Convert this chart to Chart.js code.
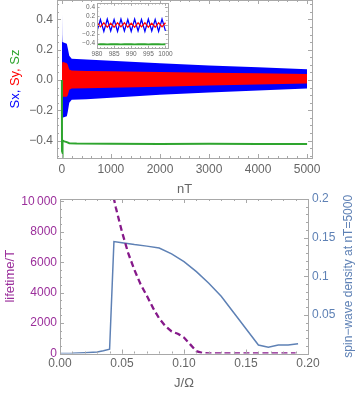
<!DOCTYPE html>
<html>
<head>
<meta charset="utf-8">
<script src="https://cdn.jsdelivr.net/npm/chart.js@4.4.1/dist/chart.umd.min.js"></script>
<style>
  html, body { margin: 0; padding: 0; background: #fff; }
  #wrap { position: relative; width: 357px; height: 393px; overflow: hidden; background: #fff; }
  canvas { position: absolute; }
  #topChart { left: 0; top: -20px; z-index: 1; }
  #insetChart { left: 70px; top: -15px; z-index: 3; }
  #bottomChart { left: 0; top: 175px; z-index: 2; }
</style>
</head>
<body>
<div id="wrap">
  <canvas id="topChart" width="357" height="220"></canvas>
  <canvas id="insetChart" width="105" height="73"></canvas>
  <canvas id="bottomChart" width="357" height="218"></canvas>
</div>
<script>
// 上のグラフ: Sx, Sy, Sz の包絡線 (nT)
const nEnv = [0, 5, 10, 100, 120, 150, 200, 500, 1000, 2000, 3000, 4000, 5000];
const sxUpper = [0.52, 0.30, 0.25, 0.24, 0.21, 0.16, 0.14, 0.135, 0.127, 0.11, 0.096, 0.084, 0.071];
const sxLower = [-0.05, -0.24, -0.25, -0.24, -0.21, -0.15, -0.13, -0.127, -0.118, -0.097, -0.083, -0.069, -0.056];
const syUpper = [0.05, 0.11, 0.12, 0.11, 0.10, 0.07, 0.062, 0.06, 0.057, 0.053, 0.048, 0.044, 0.04];
const syLower = [-0.02, -0.10, -0.11, -0.11, -0.10, -0.065, -0.056, -0.055, -0.052, -0.045, -0.037, -0.03, -0.023];
const nSz = [0, 2, 5, 20, 50, 100, 150, 300, 1000, 2000, 3000, 4000, 5000];
const szValues = [0, -0.47, -0.48, -0.40, -0.405, -0.41, -0.417, -0.42, -0.421, -0.422, -0.421, -0.422, -0.422];
const topXTicks = [0, 1000, 2000, 3000, 4000, 5000];
const topYTicks = [-0.4, -0.2, 0, 0.2, 0.4];

// 挿入図: nT = 980 .. 1000
const nInset = [980, 981, 982, 983, 984, 985, 986, 987, 988, 989, 990, 991, 992, 993, 994, 995, 996, 997, 998, 999, 1000];
const sxInset = [-0.13, 0.12, -0.14, 0.13, -0.13, 0.12, -0.14, 0.13, -0.13, 0.12, -0.14, 0.13, -0.13, 0.12, -0.14, 0.13, -0.13, 0.12, -0.14, 0.13, -0.13];
const syInset = [0.05, -0.04, 0.05, -0.05, 0.04, -0.05, 0.05, -0.04, 0.05, -0.05, 0.04, -0.05, 0.05, -0.04, 0.05, -0.05, 0.04, -0.05, 0.05, -0.04, 0.05];
const szInset = [-0.42, -0.421, -0.42, -0.422, -0.421, -0.42, -0.421, -0.422, -0.42, -0.421, -0.42, -0.422, -0.421, -0.42, -0.421, -0.422, -0.42, -0.421, -0.42, -0.422, -0.421];
const insetXTicks = [980, 985, 990, 995, 1000];
const insetYTicks = [-0.4, -0.2, 0, 0.2, 0.4];

// 下のグラフ: J/Ω
const jLife = [0.04, 0.045, 0.05, 0.055, 0.06, 0.065, 0.07, 0.075, 0.08, 0.085, 0.09, 0.095, 0.10, 0.105, 0.11, 0.115, 0.12, 0.13, 0.14, 0.15, 0.16, 0.17, 0.18, 0.19];
const lifetime = [11500, 9600, 8000, 6600, 5500, 4550, 3800, 3000, 2300, 1800, 1450, 1300, 1050, 600, 150, 30, 10, 10, 10, 10, 10, 10, 10, 10];
const jDensity = [0, 0.01, 0.02, 0.03, 0.035, 0.04, 0.0435, 0.05, 0.06, 0.07, 0.08, 0.09, 0.10, 0.11, 0.12, 0.13, 0.14, 0.15, 0.16, 0.168, 0.176, 0.184, 0.192];
const density = [0, 0.0003, 0.001, 0.002, 0.0035, 0.0055, 0.145, 0.1435, 0.141, 0.139, 0.1365, 0.129, 0.119, 0.106, 0.091, 0.074, 0.053, 0.032, 0.011, 0.008, 0.011, 0.011, 0.0125];
const jTicks = [0, 0.05, 0.10, 0.15, 0.20];
const lifeTicks = [0, 2000, 4000, 6000, 8000, 10000];
const densityTicks = [0, 0.05, 0.1, 0.15, 0.2];

const FONT = '"Liberation Sans", Arial, sans-serif';
const GRAY = '#666666';
const BLUE = '#0000ff';
const RED = '#ff0000';
const GREEN = '#2ea52e';
const PURPLE = '#86198a';
const PURPLE_TXT = '#9b2f9b';
const STEEL = '#5e81b5';

const toPts = (xs, ys) => xs.map((x, i) => ({ x: x, y: ys[i] }));
const fixTicks = (list) => (scale) => { scale.ticks = list.map(v => ({ value: v })); };
const signed = (v, d) => (v < 0 ? '\u2212' : '') + Math.abs(v).toFixed(d);

// 枠と内向きの目盛り (Mathematica 風)
const frameTicks = {
  id: 'frameTicks',
  afterDatasetsDraw(chart, args, opts) {
    const { ctx, chartArea: a } = chart;
    const scales = Object.values(chart.scales);
    const hasRight = scales.some(s => s.position === 'right');
    const len = opts.len || 4;
    ctx.save();
    ctx.strokeStyle = '#a8a8a8';
    ctx.lineWidth = 1;
    ctx.strokeRect(Math.round(a.left) + 0.5, Math.round(a.top) + 0.5, Math.round(a.right - a.left), Math.round(a.bottom - a.top));
    scales.forEach(s => {
      const marks = s.ticks.map(t => [t.value, len]);
      const step = (opts.minor || {})[s.id];
      if (step) {
        for (let k = Math.ceil(s.min / step); k * step <= s.max + 1e-9; k++) marks.push([k * step, len / 2]);
      }
      marks.forEach(([v, l]) => {
        if (v < s.min || v > s.max) return;
        const p = Math.round(s.getPixelForValue(v)) + 0.5;
        ctx.beginPath();
        if (s.isHorizontal()) {
          ctx.moveTo(p, a.bottom); ctx.lineTo(p, a.bottom - l);
          ctx.moveTo(p, a.top); ctx.lineTo(p, a.top + l);
        } else {
          if (!hasRight || s.position === 'left') { ctx.moveTo(a.left, p); ctx.lineTo(a.left + l, p); }
          if (!hasRight || s.position === 'right') { ctx.moveTo(a.right, p); ctx.lineTo(a.right - l, p); }
        }
        ctx.stroke();
      });
    });
    ctx.restore();
  }
};

// 色分けした縦軸ラベル "Sx, Sy, Sz"
const titleParts = [
  { text: 'Sx, ', color: BLUE },
  { text: 'Sy, ', color: RED },
  { text: 'Sz', color: GREEN },
];
const multiColorTitle = {
  id: 'multiColorTitle',
  afterDraw(chart) {
    const ctx = chart.ctx;
    ctx.save();
    ctx.font = '13px ' + FONT;
    const total = titleParts.reduce((w, p) => w + ctx.measureText(p.text).width, 0);
    ctx.translate(15, chart.chartArea.top + 79);
    ctx.rotate(-Math.PI / 2);
    ctx.textBaseline = 'middle';
    ctx.textAlign = 'left';
    let x = -total / 2;
    titleParts.forEach(p => {
      ctx.fillStyle = p.color;
      ctx.fillText(p.text, x, 0);
      x += ctx.measureText(p.text).width;
    });
    ctx.restore();
  }
};

// 右軸のタイトル (下から上へ)
const rightTitle = {
  id: 'rightTitle',
  afterDraw(chart) {
    const { ctx, chartArea: a } = chart;
    ctx.save();
    ctx.font = '12px ' + FONT;
    ctx.fillStyle = STEEL;
    ctx.translate(349, (a.top + a.bottom) / 2);
    ctx.rotate(-Math.PI / 2);
    ctx.textAlign = 'center';
    ctx.textBaseline = 'middle';
    ctx.fillText('spin\u2212wave density at nT=5000', 0, 0);
    ctx.restore();
  }
};

const whiteArea = {
  id: 'whiteArea',
  beforeDraw(chart) {
    const { ctx, chartArea: a } = chart;
    ctx.save();
    ctx.fillStyle = '#fff';
    ctx.fillRect(a.left, a.top, a.right - a.left, a.bottom - a.top);
    ctx.restore();
  }
};

const band = (data, color, fill, order) => ({
  data: data, borderWidth: 0, borderColor: color, backgroundColor: color,
  pointRadius: 0, fill: fill, order: order, tension: 0,
});

new Chart(document.getElementById('topChart'), {
  type: 'line',
  data: {
    datasets: [
      band(toPts(nEnv, sxUpper), BLUE, 1, 3),
      band(toPts(nEnv, sxLower), BLUE, false, 3),
      band(toPts(nEnv, syUpper), RED, 3, 2),
      band(toPts(nEnv, syLower), RED, false, 2),
      { data: toPts(nSz, szValues), borderColor: GREEN, borderWidth: 2, pointRadius: 0, fill: false, order: 1 },
    ],
  },
  options: {
    responsive: false,
    animation: false,
    layout: { padding: { left: 0, right: 45, top: 20, bottom: 0 } },
    plugins: {
      legend: { display: false },
      tooltip: { enabled: false },
      frameTicks: { len: 4, minor: { x: 200, y: 0.05 } },
    },
    scales: {
      x: {
        type: 'linear', min: -100, max: 5100,
        afterBuildTicks: fixTicks(topXTicks),
        afterFit: (s) => { s.height = 42; },
        grid: { display: false, drawTicks: false },
        border: { display: false },
        ticks: { color: GRAY, font: { family: FONT, size: 12 }, padding: 4, maxRotation: 0, callback: (v) => String(v) },
        title: { display: true, text: 'nT', color: GRAY, font: { family: FONT, size: 13 }, padding: { top: 0, bottom: 3 } },
      },
      y: {
        type: 'linear', min: -0.515, max: 0.528,
        afterBuildTicks: fixTicks(topYTicks),
        afterFit: (s) => { s.width = 57; },
        grid: { display: false, drawTicks: false },
        border: { display: false },
        ticks: { color: GRAY, font: { family: FONT, size: 12 }, padding: 4, callback: (v) => signed(v, 1) },
      },
    },
  },
  plugins: [frameTicks, multiColorTitle],
});

new Chart(document.getElementById('insetChart'), {
  type: 'line',
  data: {
    datasets: [
      { data: toPts(nInset, szInset), borderColor: GREEN, borderWidth: 1.8, pointRadius: 0 },
      { data: toPts(nInset, syInset), borderColor: RED, borderWidth: 1.3, pointRadius: 0 },
      { data: toPts(nInset, sxInset), borderColor: BLUE, borderWidth: 1.3, pointRadius: 0 },
    ],
  },
  options: {
    responsive: false,
    animation: false,
    layout: { padding: { left: 0, right: 7.5, top: 18.3, bottom: 0 } },
    plugins: {
      legend: { display: false },
      tooltip: { enabled: false },
      frameTicks: { len: 2.5, minor: { x: 1, y: 0.1 } },
    },
    scales: {
      x: {
        type: 'linear', min: 980, max: 1000.6,
        afterBuildTicks: fixTicks(insetXTicks),
        afterFit: (s) => { s.height = 9.7; },
        grid: { display: false, drawTicks: false },
        border: { display: false },
        ticks: { color: GRAY, font: { family: FONT, size: 6.5 }, padding: 2, maxRotation: 0, autoSkip: false, callback: (v) => String(v) },
      },
      y: {
        type: 'linear', min: -0.51, max: 0.475,
        afterBuildTicks: fixTicks(insetYTicks),
        afterFit: (s) => { s.width = 27; },
        grid: { display: false, drawTicks: false },
        border: { display: false },
        ticks: { color: GRAY, font: { family: FONT, size: 6.5 }, padding: 2, callback: (v) => signed(v, 1) },
      },
    },
  },
  plugins: [whiteArea, frameTicks],
});

new Chart(document.getElementById('bottomChart'), {
  type: 'line',
  data: {
    datasets: [
      { data: toPts(jLife, lifetime), yAxisID: 'yL', borderColor: PURPLE, borderWidth: 2.3, borderDash: [6, 3.5], pointRadius: 0, order: 1 },
      { data: toPts(jDensity, density), yAxisID: 'yR', borderColor: STEEL, borderWidth: 1.5, pointRadius: 0, order: 2 },
    ],
  },
  options: {
    responsive: false,
    animation: false,
    layout: { padding: { left: 0, right: 0, top: 24, bottom: 0 } },
    plugins: {
      legend: { display: false },
      tooltip: { enabled: false },
      frameTicks: { len: 4, minor: { x: 0.01, yL: 500, yR: 0.01 } },
    },
    scales: {
      x: {
        type: 'linear', min: 0, max: 0.2,
        afterBuildTicks: fixTicks(jTicks),
        afterFit: (s) => { s.height = 39.5; },
        grid: { display: false, drawTicks: false },
        border: { display: false },
        ticks: { color: GRAY, font: { family: FONT, size: 12 }, padding: 3, maxRotation: 0, callback: (v) => v.toFixed(2) },
        title: { display: true, text: 'J/\u03a9', color: GRAY, font: { family: FONT, size: 13 }, padding: { top: 0, bottom: 2 } },
      },
      yL: {
        type: 'linear', position: 'left', min: 0, max: 10160,
        afterBuildTicks: fixTicks(lifeTicks),
        afterFit: (s) => { s.width = 60; },
        grid: { display: false, drawTicks: false },
        border: { display: false },
        ticks: { color: PURPLE_TXT, font: { family: FONT, size: 12 }, padding: 3, callback: (v) => (v === 10000 ? '10\u2009000' : String(v)) },
        title: { display: true, text: 'lifetime/T', color: PURPLE_TXT, font: { family: FONT, size: 13 }, padding: { top: 3, bottom: 0 } },
      },
      yR: {
        type: 'linear', position: 'right', min: 0, max: 0.2,
        afterBuildTicks: fixTicks(densityTicks),
        afterFit: (s) => { s.width = 49; },
        grid: { display: false, drawTicks: false },
        border: { display: false },
        ticks: { color: STEEL, font: { family: FONT, size: 12 }, padding: 4, callback: (v) => (v === 0 ? '' : String(+v.toFixed(2))) },
      },
    },
  },
  plugins: [frameTicks, rightTitle],
});
</script>
</body>
</html>
